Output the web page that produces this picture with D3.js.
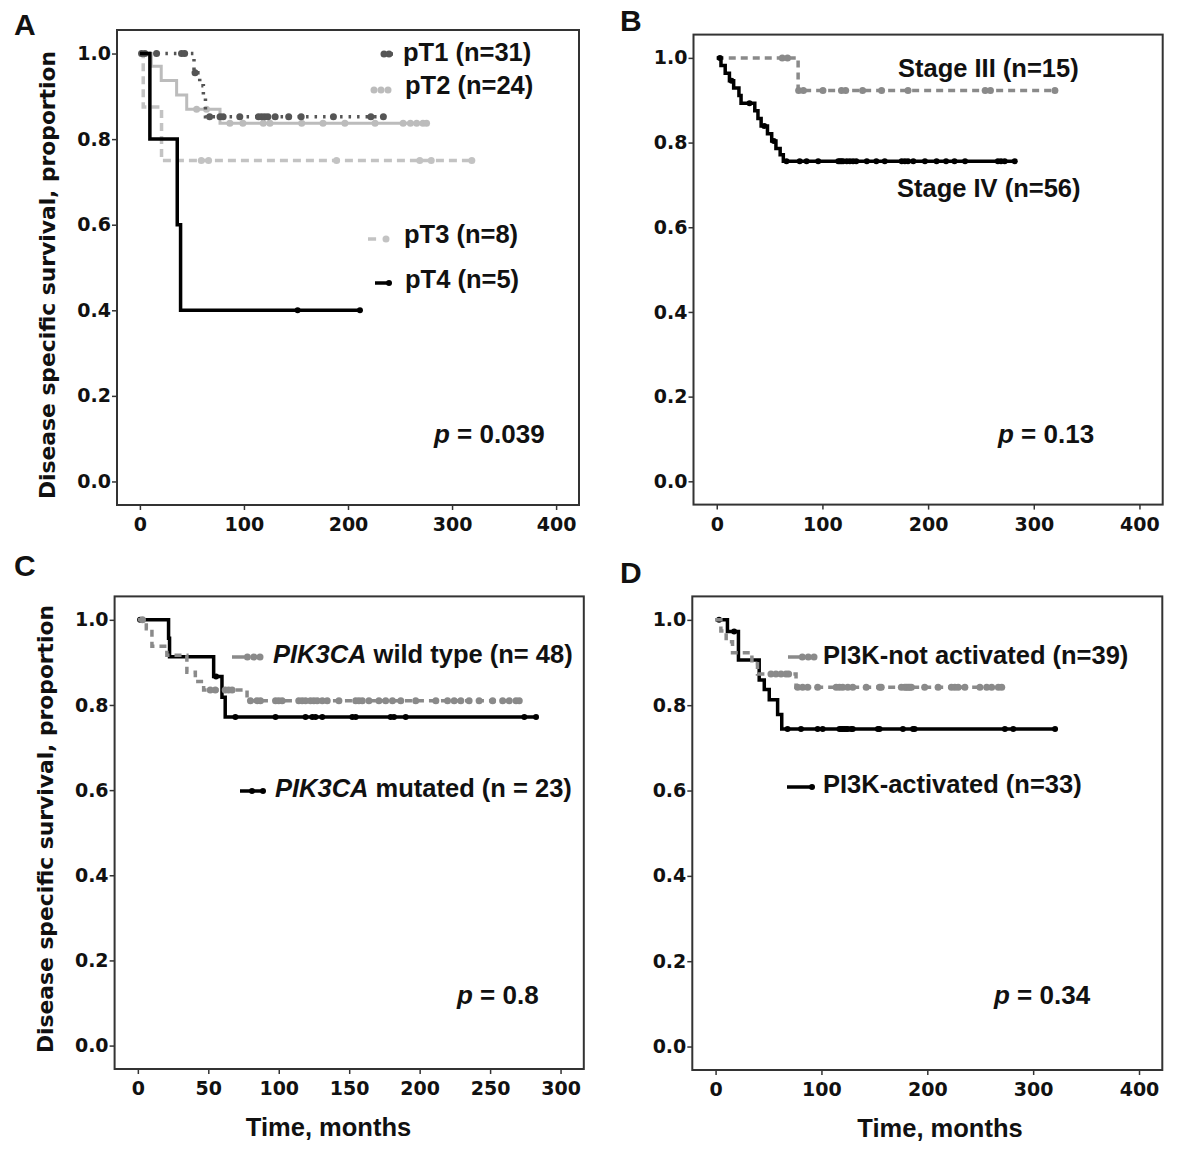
<!DOCTYPE html>
<html>
<head>
<meta charset="utf-8">
<script src="https://cdn.jsdelivr.net/npm/d3@7"></script>
<style>
  body { margin: 0; background: #fff; }
  svg text { fill: #111; }
  .tick-label { font-family: "DejaVu Sans", sans-serif; font-weight: bold; font-size: 19px; }
  .axis-title { font-family: "DejaVu Sans", sans-serif; font-weight: bold; font-size: 21.8px; }
  .arial { font-family: "Liberation Sans", Arial, sans-serif; font-weight: bold; }
</style>
</head>
<body>
<div id="chart"></div>
<script>
// ---- data (months, survival proportion) ----
const yTicks = [0, 0.2, 0.4, 0.6, 0.8, 1.0];
const xTicks400 = [0, 100, 200, 300, 400];
const xTicks300 = [0, 50, 100, 150, 200, 250, 300];

// A: pT stage
const pT1Steps = [[0, 1], [52, 0.955], [57.5, 0.925], [61, 0.895], [63, 0.852]];
const pT1Censor = [1.6, 4.8, 16, 40, 43, 53, 67, 77, 80, 96, 114, 117, 120, 123, 130, 143, 155, 186, 222, 234];
const pT2Steps = [[0, 1], [11, 0.97], [20.5, 0.937], [35.3, 0.903], [45, 0.87], [77, 0.837]];
const pT2Censor = [54.5, 64, 86.5, 99, 118.6, 125, 155.5, 176, 197, 226, 253, 260, 266, 272, 275.5];
const pT3Steps = [[0, 1], [3.2, 0.875], [20.8, 0.75]];
const pT3Censor = [59, 66, 189, 269, 280, 319];
const pT4Steps = [[0, 1], [9.6, 0.8], [35.9, 0.6], [39.1, 0.4]];
const pT4Censor = [151.6, 211.5];

// B: stage
const stage3Steps = [[0, 1], [77, 0.923]];
const stage3Censor = [62, 67, 77.5, 82, 100.5, 118, 122, 138, 156, 181, 254, 259, 320];
const stage4Steps = [[0, 1], [4, 0.982], [8, 0.964], [12, 0.946], [16, 0.929], [21, 0.911], [23, 0.893],
  [36, 0.875], [39, 0.857], [42, 0.839], [48, 0.821], [52, 0.804], [56, 0.786], [60, 0.771], [63, 0.756]];
const stage4Censor = [3, 14, 31, 45, 54, 66, 78.5, 85, 96, 115, 116.5, 118, 119.6, 123, 126, 129, 132, 142,
  151, 159, 175, 178, 181, 186, 197, 208, 217, 225, 235, 266, 269, 272.5, 282];

// C: PIK3CA
const wildSteps = [[0, 1], [6, 0.979], [10, 0.938], [20.6, 0.917], [34.8, 0.877], [40.8, 0.855], [46.7, 0.835], [77.5, 0.81]];
const wildCensor = [3.3, 51.4, 55, 62, 64.4, 66.9, 79.9, 84.6, 87, 97.7, 100, 102.4, 114.2, 116.6, 119, 122.5,
  124.9, 127.3, 130.9, 134.4, 142.7, 154.6, 156.9, 159.3, 164, 171.1, 175.9, 180.7, 186.6, 197.2, 211.5,
  219.8, 224.5, 229.2, 235.1, 242.2, 251.8, 258.9, 263.6, 268.4, 270.7];
const mutSteps = [[0, 1], [21.8, 0.957], [22.5, 0.913], [53.8, 0.867], [59.7, 0.818], [62, 0.772]];
const mutCensor = [1.6, 55.5, 69.2, 97.7, 119, 123.8, 126.1, 130.9, 152.2, 154.6, 179.4, 181.8, 190.1, 274.3, 282.6];

// D: PI3K activation
const notActSteps = [[0, 1], [5, 0.974], [10, 0.949], [16, 0.923], [34.3, 0.897], [39.6, 0.873], [76, 0.842]];
const notActCensor = [52.3, 57, 61.8, 66.5, 69, 77.5, 82.2, 87, 96.4, 113.9, 117, 120.1, 124.9, 129.6, 142.3,
  154.9, 156.5, 175.5, 178.6, 180.2, 181.8, 183.4, 185, 197.5, 210.2, 222.8, 226, 229.2, 235.5, 249.7,
  256.1, 260.8, 267.1, 270.3];
const actSteps = [[0, 1], [11.2, 0.973], [21.6, 0.906], [41.2, 0.859], [46, 0.837], [50.7, 0.813], [58.6, 0.778], [62.5, 0.744]];
const actCensor = [3.3, 17.5, 68, 80.7, 96.4, 101.2, 117, 118.6, 120.1, 121.7, 123.4, 124.9, 128.1, 129.6,
  153.3, 154.9, 177, 186.5, 188, 273.3, 281.2, 320.7];

const pValues = ["0.039", "0.13", "0.8", "0.34"];

// ---- styles ----
const black = { color: "#000", width: 3.5, dash: null, r: 3 };
const grayDash = { color: "#8a8a8a", width: 3.5, dash: "7,5", r: 3.5 };

const panels = [
  {
    letter: "A", lx: 14, ly: 35,
    frame: { x0: 117, x1: 579, y0: 30, y1: 505 }, xDomain: [-22, 422], xTicks: xTicks400,
    yTitle: 275, xTitle: null, p: { x: 434, y: 443, val: pValues[0] },
    series: [
      { steps: pT3Steps, censor: pT3Censor, style: { color: "#c3c3c3", width: 3.5, dash: "8,5", r: 3.5 },
        legend: { text: "pT3 (n=8)", tx: 404, ty: 243, marker: "dashdot", mx: [368, 386], my: 239 } },
      { steps: pT2Steps, censor: pT2Censor, style: { color: "#bcbcbc", width: 3, dash: null, r: 3.5 },
        legend: { text: "pT2 (n=24)", tx: 405, ty: 94, marker: "dots", mx: [374, 388], my: 90 } },
      { steps: pT1Steps, censor: pT1Censor, style: { color: "#555", width: 3.5, dash: "2.5,6", r: 3.5 },
        legend: { text: "pT1 (n=31)", tx: 403, ty: 61, marker: "dotted", mx: [382, 399], my: 54 } },
      { steps: pT4Steps, censor: pT4Censor, style: black,
        legend: { text: "pT4 (n=5)", tx: 405, ty: 288, marker: "line", mx: [375, 389], my: 283 } }
    ]
  },
  {
    letter: "B", lx: 620, ly: 31,
    frame: { x0: 693.5, x1: 1162.7, y0: 34.6, y1: 504.6 }, xDomain: [-22, 422], xTicks: xTicks400,
    yTitle: null, xTitle: null, p: { x: 998, y: 443, val: pValues[1] },
    series: [
      { steps: stage3Steps, censor: stage3Censor, style: grayDash,
        legend: { text: "Stage III (n=15)", tx: 898, ty: 77 } },
      { steps: stage4Steps, censor: stage4Censor, style: black,
        legend: { text: "Stage IV (n=56)", tx: 897, ty: 197 } }
    ]
  },
  {
    letter: "C", lx: 14, ly: 576,
    frame: { x0: 114.6, x1: 583.8, y0: 596.4, y1: 1069 }, xDomain: [-16.5, 316.5], xTicks: xTicks300,
    yTitle: 829, xTitle: 328.5, p: { x: 457, y: 1004, val: pValues[2] },
    series: [
      { steps: mutSteps, censor: mutCensor, style: black,
        legend: { italic: "PIK3CA", text: " mutated (n = 23)", tx: 275, ty: 797, marker: "line", mx: [240, 263], my: 791, dots: [252, 263] } },
      { steps: wildSteps, censor: wildCensor, style: grayDash,
        legend: { italic: "PIK3CA", text: " wild type (n= 48)", tx: 273, ty: 663, marker: "dashdots", mx: [232, 260], my: 657 } }
    ]
  },
  {
    letter: "D", lx: 620, ly: 583,
    frame: { x0: 692.3, x1: 1162.3, y0: 596.4, y1: 1070 }, xDomain: [-22, 422], xTicks: xTicks400,
    yTitle: null, xTitle: 940, p: { x: 994, y: 1004, val: pValues[3] },
    series: [
      { steps: actSteps, censor: actCensor, style: black,
        legend: { text: "PI3K-activated (n=33)", tx: 823, ty: 793, marker: "line", mx: [787, 812], my: 787 } },
      { steps: notActSteps, censor: notActCensor, style: grayDash,
        legend: { text: "PI3K-not activated (n=39)", tx: 823, ty: 664, marker: "dashdots", mx: [788, 814], my: 657 } }
    ]
  }
];

const svg = d3.select("#chart").append("svg")
  .attr("width", 1200).attr("height", 1168);

function survAt(steps, t) {
  let s = steps[0][1];
  steps.forEach(d => { if (d[0] <= t) s = d[1]; });
  return s;
}

panels.forEach(p => {
  const f = p.frame;
  const x = d3.scaleLinear().domain(p.xDomain).range([f.x0, f.x1]);
  const y = d3.scaleLinear().domain([-0.055, 1.055]).range([f.y1, f.y0]);
  const g = svg.append("g");

  // panel letter
  g.append("text").attr("class", "arial").attr("x", p.lx).attr("y", p.ly)
    .style("font-size", "30px").text(p.letter);

  // axes
  const yAxis = d3.axisLeft(y).tickValues(yTicks).tickFormat(d3.format(".1f")).tickSize(5).tickPadding(1);
  const xAxis = d3.axisBottom(x).tickValues(p.xTicks).tickFormat(d3.format("d")).tickSize(5).tickPadding(8);
  const ya = g.append("g").attr("transform", `translate(${f.x0},0)`).call(yAxis);
  const xa = g.append("g").attr("transform", `translate(0,${f.y1})`).call(xAxis);
  [ya, xa].forEach(a => {
    a.select(".domain").remove();
    a.selectAll("line").attr("stroke", "#333").attr("stroke-width", 1.5);
    a.selectAll("text").attr("class", "tick-label").attr("fill", "#111");
  });

  // frame
  g.append("rect").attr("x", f.x0).attr("y", f.y0)
    .attr("width", f.x1 - f.x0).attr("height", f.y1 - f.y0)
    .attr("fill", "none").attr("stroke", "#333").attr("stroke-width", 2);

  const line = d3.line().x(d => x(d[0])).y(d => y(d[1])).curve(d3.curveStepAfter);

  p.series.forEach(s => {
    const st = s.style;
    const end = d3.max(s.censor);
    const pts = s.steps.concat([[end, s.steps[s.steps.length - 1][1]]]);
    g.append("path").attr("d", line(pts))
      .attr("fill", "none").attr("stroke", st.color).attr("stroke-width", st.width)
      .attr("stroke-dasharray", st.dash);
    g.selectAll(null).data(s.censor).enter().append("circle")
      .attr("cx", d => x(d)).attr("cy", d => y(survAt(s.steps, d)))
      .attr("r", st.r).attr("fill", st.color);

    // legend
    const L = s.legend;
    const t = g.append("text").attr("class", "arial").attr("x", L.tx).attr("y", L.ty)
      .style("font-size", "25.5px");
    if (L.italic) t.append("tspan").style("font-style", "italic").text(L.italic);
    t.append("tspan").text(L.text);

    if (L.marker) {
      const [m0, m1] = L.mx;
      if (L.marker === "dots") {
        [m0, (m0 + m1) / 2, m1].forEach(cx => g.append("circle").attr("cx", cx).attr("cy", L.my).attr("r", st.r).attr("fill", st.color));
      } else {
        const lineEnd = L.marker === "line" ? m1 : L.marker === "dotted" ? m1 : m0 + (m1 - m0) * 0.45;
        g.append("line").attr("x1", m0).attr("x2", lineEnd).attr("y1", L.my).attr("y2", L.my)
          .attr("stroke", st.color).attr("stroke-width", st.width)
          .attr("stroke-dasharray", L.marker === "dotted" ? st.dash : null);
        let dots;
        if (L.dots) dots = L.dots;
        else if (L.marker === "line") dots = [m1];
        else if (L.marker === "dotted") dots = [m0 + 2, m0 + 7];
        else if (L.marker === "dashdot") dots = [m1];
        else dots = [m0 + (m1 - m0) * 0.55, m0 + (m1 - m0) * 0.78, m1];
        dots.forEach(cx => g.append("circle").attr("cx", cx).attr("cy", L.my).attr("r", st.r).attr("fill", st.color));
      }
    }
  });

  // p value
  const pt = g.append("text").attr("class", "arial").attr("x", p.p.x).attr("y", p.p.y).style("font-size", "26px");
  pt.append("tspan").style("font-style", "italic").text("p");
  pt.append("tspan").text(" = " + p.p.val);

  // axis titles
  if (p.yTitle) {
    g.append("text").attr("class", "axis-title")
      .attr("transform", `translate(${f.x0 - 62},${p.yTitle}) rotate(-90)`)
      .attr("text-anchor", "middle").text("Disease specific survival, proportion");
  }
  if (p.xTitle) {
    g.append("text").attr("class", "arial").style("font-size", "25.5px")
      .attr("x", p.xTitle).attr("y", f.y1 + 67)
      .attr("text-anchor", "middle").text("Time, months");
  }
});
</script>
</body>
</html>
